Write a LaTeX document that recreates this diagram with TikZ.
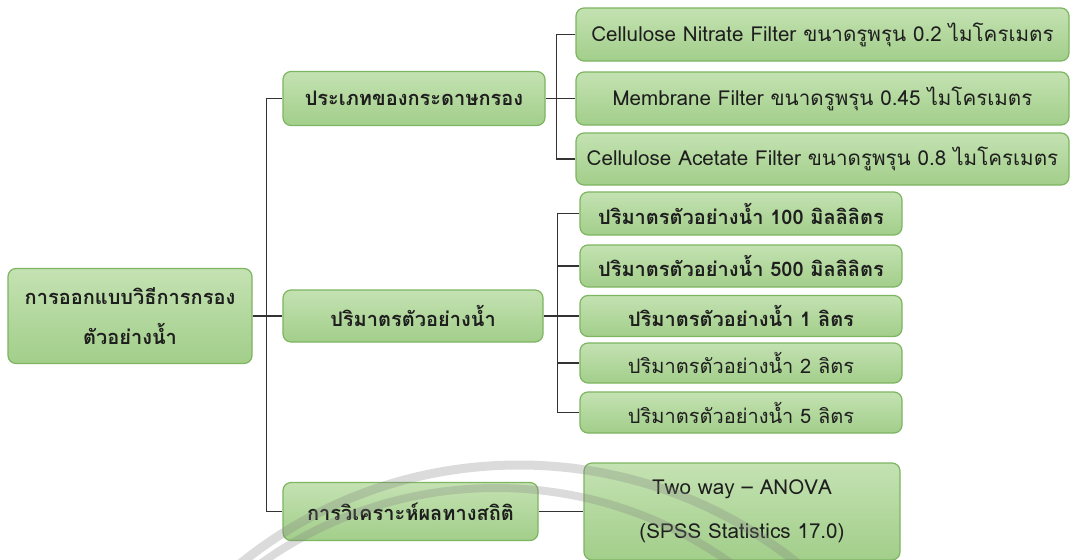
\documentclass[tikz,border=0pt]{standalone}
\usepackage{fontspec}
\setmainfont[Script=Thai]{Loma}
\definecolor{boxtop}{HTML}{C4E2B2}
\definecolor{boxbot}{HTML}{A2CE8A}
\definecolor{boxline}{HTML}{7DB561}
\definecolor{txt}{HTML}{1E1E1E}
\definecolor{wirec}{HTML}{333333}
\begin{document}
\begin{tikzpicture}[x=1pt,y=-1pt,
  box/.style={draw=boxline, line width=1.2pt, rounded corners=8pt,
    top color=boxtop, bottom color=boxbot, text=txt, align=center, inner sep=0pt},
  fl/.style={font=\fontsize{20.6}{22}\selectfont},
  fn/.style={font=\fontsize{20}{22}\selectfont},
  fb/.style={font=\bfseries\fontsize{20}{22}\selectfont},
  wire/.style={draw=wirec, line width=1.4pt}]
\useasboundingbox (0,0) rectangle (1072,560);
\fill[white] (0,0) rectangle (1072,560);

% root
\node[box, minimum width=244pt, minimum height=95pt,
  font=\bfseries\fontsize{20}{40}\selectfont] (root) at (130,316)
  {การออกแบบวิธีการกรอง\\ตัวอย่างน้ำ};

% level 1
\node[box, fb, minimum width=262pt, minimum height=54pt] (ftype) at (414,98.5) {ประเภทของกระดาษกรอง};
\node[box, fb, minimum width=260pt, minimum height=52pt] (vol) at (413,316) {ปริมาตรตัวอย่างน้ำ};
\node[box, fb, minimum width=255pt, minimum height=58pt] (stats) at (410.5,511.5) {การวิเคราะห์ผลทางสถิติ};

% filters
\node[box, fl, minimum width=493pt, minimum height=53pt] (f1) at (822.5,34.5) {Cellulose Nitrate Filter ขนาดรูพรุน 0.2 ไมโครเมตร};
\node[box, fl, minimum width=493pt, minimum height=53pt] (f2) at (822.5,98.5) {Membrane Filter ขนาดรูพรุน 0.45 ไมโครเมตร};
\node[box, fl, minimum width=493pt, minimum height=52pt] (f3) at (822.5,159) {Cellulose Acetate Filter ขนาดรูพรุน 0.8 ไมโครเมตร};

% volumes
\node[box, fb, minimum width=322pt, minimum height=43pt] (v1) at (741,213.5) {ปริมาตรตัวอย่างน้ำ 100 มิลลิลิตร};
\node[box, fb, minimum width=322pt, minimum height=42pt] (v2) at (741,266) {ปริมาตรตัวอย่างน้ำ 500 มิลลิลิตร};
\node[box, fb, minimum width=322pt, minimum height=41pt] (v3) at (741,316) {ปริมาตรตัวอย่างน้ำ 1 ลิตร};
\node[box, fn, minimum width=322pt, minimum height=40pt] (v4) at (741,363) {ปริมาตรตัวอย่างน้ำ 2 ลิตร};
\node[box, fn, minimum width=322pt, minimum height=41pt] (v5) at (741,412.5) {ปริมาตรตัวอย่างน้ำ 5 ลิตร};

% statistics
\node[box, font=\fontsize{20.6}{44}\selectfont, minimum width=316pt, minimum height=97pt] (anova) at (742,511.5)
  {Two way -- ANOVA\\(SPSS Statistics 17.0)};

% connectors
\draw[wire] (ftype.west) -- ++(-16,0) |- (stats.west);
\draw[wire] (root.east) -- (vol.west);
\draw[wire] (f1.west) -- ++(-19,0) |- (f3.west);
\draw[wire] (ftype.east) -- (f2.west);
\draw[wire] (v1.west) -- ++(-22,0) |- (v5.west);
\draw[wire] (v2.west) -- ++(-22,0);
\draw[wire] (v4.west) -- ++(-22,0);
\draw[wire] (vol.east) -- (v3.west);
\draw[wire] (stats.east) -- (anova.west |- stats.east);

% faint watermark arcs
\begin{scope}[opacity=0.28]
  \draw[gray, line width=9pt] (519,908) circle[radius=443pt];
  \draw[gray, line width=8pt] (496,892) circle[radius=404pt];
\end{scope}
\end{tikzpicture}
\end{document}
